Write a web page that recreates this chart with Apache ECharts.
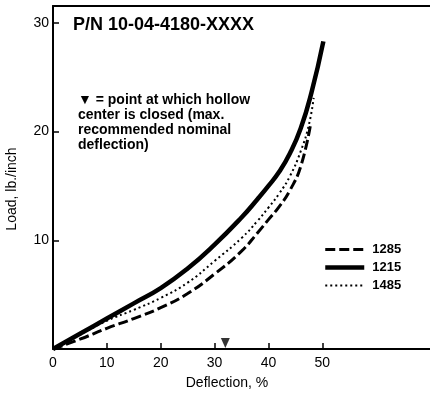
<!DOCTYPE html>
<html>
<head>
<meta charset="utf-8">
<script src="https://cdn.jsdelivr.net/npm/echarts@6/dist/echarts.min.js"></script>
<style>html,body{margin:0;padding:0;background:#fff}#c{width:430px;height:394px}</style>
</head>
<body>
<div id="c"></div>
<script>
// Data (deflection %, load lb./inch)
const seriesNames = ['1285', '1215', '1485'];
const data1285 = [[0,0],[5,0.9],[10,1.9],[15,2.8],[20,3.8],[25,5.1],[30,6.9],[35,9.0],[38,10.7],[40,11.9],[42,13.1],[44,14.6],[46,16.8],[47.8,20.6]];
const data1215 = [[0,0],[5,1.4],[10,2.8],[15,4.2],[20,5.6],[25,7.4],[30,9.6],[35,12.1],[38,13.8],[40,15.0],[42,16.3],[44,18.0],[46,20.3],[48,23.6],[50.2,28.3]];
const data1485 = [[0,0],[5,1.3],[10,2.6],[15,3.6],[20,4.7],[25,6.1],[30,8.1],[35,10.2],[38,11.8],[40,13.0],[42,14.3],[44,15.9],[46,18.2],[47.5,20.6],[48.4,23.1]];
const closedPoint = [[32, 0]];
const xTicks = [0, 10, 20, 30, 40, 50];
const yTicks = [10, 20, 30];
const titleText = 'P/N 10-04-4180-XXXX';
const noteLines = ['▼ = point at which hollow', 'center is closed (max.', 'recommended nominal', 'deflection)'];
const xName = 'Deflection, %';
const yName = 'Load, lb./inch';

const FONT = '"Liberation Sans", Arial, sans-serif';
const styles = {
  '1285': {color: '#000', width: 3, type: [10, 4]},
  '1215': {color: '#000', width: 4.5, type: 'solid'},
  '1485': {color: '#000', width: 2, type: [2, 3]}
};
const chart = echarts.init(document.getElementById('c'), null, {renderer: 'canvas'});
chart.setOption({
  animation: false,
  backgroundColor: '#fff',
  grid: {left: 53, right: 0, top: 6, bottom: 45, containLabel: false},
  xAxis: [{
    type: 'value', min: 0, max: 70, interval: 10,
    axisLine: {show: true, lineStyle: {color: '#000', width: 2}},
    axisTick: {show: true, inside: true, length: 6, lineStyle: {color: '#000', width: 1.5}, customValues: xTicks},
    axisLabel: {color: '#000', fontSize: 14, fontFamily: FONT, margin: 7, customValues: xTicks},
    splitLine: {show: false}
  }, {
    type: 'value', position: 'top', min: 0, max: 70,
    axisLine: {show: true, onZero: false, lineStyle: {color: '#000', width: 2}},
    axisTick: {show: false}, axisLabel: {show: false}, splitLine: {show: false}
  }],
  yAxis: {
    type: 'value', min: 0, max: 31.55,
    axisLine: {show: true, lineStyle: {color: '#000', width: 2}},
    axisTick: {show: true, inside: true, length: 6, lineStyle: {color: '#000', width: 1.5}, customValues: yTicks},
    axisLabel: {color: '#000', fontSize: 14, fontFamily: FONT, margin: 4, customValues: yTicks},
    splitLine: {show: false}
  },
  legend: {
    orient: 'vertical', left: 323, top: 243, itemWidth: 39, itemHeight: 14, itemGap: 5,
    data: seriesNames.map(n => ({name: n, lineStyle: styles[n]})),
    itemStyle: {opacity: 0},
    textStyle: {color: '#000', fontSize: 13, fontWeight: 'bold', fontFamily: FONT, padding: [0,0,0,3]},
    padding: 0
  },
  series: [
    {name: '1285', type: 'line', data: data1285, symbol: 'none', smooth: true,
     lineStyle: styles['1285'], itemStyle: {color: '#000'}},
    {name: '1215', type: 'line', data: data1215, symbol: 'none', smooth: true,
     lineStyle: styles['1215'], itemStyle: {color: '#000'}},
    {name: '1485', type: 'line', data: data1485, symbol: 'none', smooth: true,
     lineStyle: styles['1485'], itemStyle: {color: '#000'}},
    {name: 'closed', type: 'scatter', data: closedPoint, symbol: 'triangle', symbolRotate: 180,
     symbolSize: [9, 10], symbolOffset: [0, -6], itemStyle: {color: '#000'}, z: 5}
  ],
  graphic: [
    {type: 'text', left: 73, top: 16, style: {text: titleText, fill: '#000', font: 'bold 18px ' + FONT}},
    {type: 'text', left: 78, top: 93, style: {text: noteLines.join('\n'), fill: '#000', font: 'bold 14px ' + FONT, lineHeight: 15}},
    {type: 'text', x: 227, y: 383, style: {text: xName, fill: '#000', font: '14px ' + FONT, align: 'center', verticalAlign: 'middle'}},
    {type: 'text', x: 12, y: 189, rotation: Math.PI / 2, style: {text: yName, fill: '#000', font: '14px ' + FONT, align: 'center', verticalAlign: 'middle'}}
  ]
});
</script>
</body>
</html>
